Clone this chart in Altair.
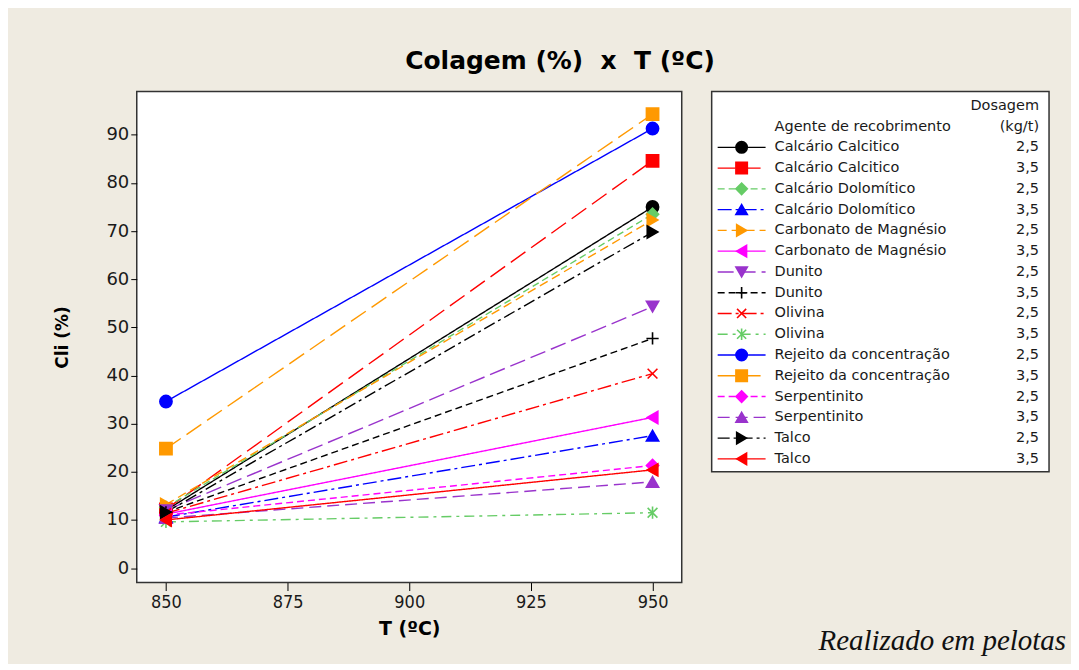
import altair as alt
import pandas as pd

# ---------------- data ----------------
agents = ["Calcário Calcitico", "Calcário Calcitico",
          "Calcário Dolomítico", "Calcário Dolomítico",
          "Carbonato de Magnésio", "Carbonato de Magnésio",
          "Dunito", "Dunito",
          "Olivina", "Olivina",
          "Rejeito da concentração", "Rejeito da concentração",
          "Serpentinito", "Serpentinito",
          "Talco", "Talco"]
doses = ["2,5", "3,5"] * 8
temps = [850, 950]
cli_850 = [12.0, 12.2, 12.6, 10.6, 13.2, 11.2, 12.0, 11.6,
           11.4, 9.6, 34.6, 24.8, 11.0, 10.4, 11.6, 10.0]
cli_950 = [75.0, 84.6, 73.5, 27.5, 72.3, 31.3, 54.3, 47.7,
           40.4, 11.5, 91.3, 94.3, 21.3, 17.9, 69.8, 20.4]
x_ticks = [850, 875, 900, 925, 950]
y_ticks = [0, 10, 20, 30, 40, 50, 60, 70, 80, 90]

# ---------------- styles ----------------
colors = ["#000000", "#FF0000", "#66CC66", "#0000FF",
          "#FF9900", "#FF00FF", "#9933CC", "#000000",
          "#FF0000", "#66CC66", "#0000FF", "#FF9900",
          "#FF00FF", "#9933CC", "#000000", "#FF0000"]
dashes = [[1, 0], [18, 7], [7, 4], [14, 4, 3, 4],
          [9, 5], [1, 0], [16, 6], [7, 4],
          [14, 4, 3, 4], [10, 5, 3, 5], [1, 0], [18, 7],
          [7, 4], [12, 6], [12, 4, 3, 4], [1, 0]]
PLUS = "M-1,0H1M0,-1V1"
XMARK = "M-0.8,-0.8L0.8,0.8M-0.8,0.8L0.8,-0.8"
STAR = "M-0.8,-0.8L0.8,0.8M-0.8,0.8L0.8,-0.8M0,-1V1"
shapes = ["circle", "square", "diamond", "triangle-up",
          "triangle-right", "triangle-left", "triangle-down", PLUS,
          XMARK, STAR, "circle", "square",
          "diamond", "triangle-up", "triangle-right", "triangle-left"]

series = [f"{a} ({d})" for a, d in zip(agents, doses)]

rows = []
for i, s in enumerate(series):
    for t, v in zip(temps, [cli_850[i], cli_950[i]]):
        rows.append({"series": s, "T": t, "Cli": v})
df = pd.DataFrame(rows)

leg_df = pd.DataFrame({"series": series, "agent": agents, "dose": doses,
                       "row": list(range(len(series)))})
hdr_left = pd.DataFrame({"text": ["Agente de recobrimento"], "row": [-1]})
hdr_right = pd.DataFrame({"text": ["Dosagem", "(kg/t)"], "row": [-2, -1]})

color_scale = alt.Scale(domain=series, range=colors)
dash_scale = alt.Scale(domain=series, range=dashes)
shape_scale = alt.Scale(domain=series, range=shapes)

TXT = "#1a1a1a"
BG = "#EFEBE1"
LEG_FS = 14.5

# ---------------- main plot ----------------
x = alt.X("T:Q",
          scale=alt.Scale(domain=[844, 956], nice=False, zero=False),
          axis=alt.Axis(values=x_ticks, title="T (ºC)", format="d",
                        grid=False, tickSize=8, tickColor="#000",
                        labelFont="DejaVu Sans Condensed", labelFontSize=18,
                        labelColor=TXT, labelPadding=3,
                        titleFont="DejaVu Sans", titleFontSize=19,
                        titleFontWeight="bold", titleColor="#000",
                        titlePadding=8, domain=False))
y = alt.Y("Cli:Q",
          scale=alt.Scale(domain=[-3, 99], nice=False, zero=False),
          axis=alt.Axis(values=y_ticks, title="Cli (%)", grid=False,
                        tickSize=6, tickColor="#000",
                        labelFont="DejaVu Sans", labelFontSize=18,
                        labelColor=TXT, labelPadding=2,
                        titleFont="DejaVu Sans", titleFontSize=17,
                        titleFontWeight="bold", titleColor="#000",
                        titlePadding=34, domain=False))

base = alt.Chart(df)
lines = base.mark_line(strokeWidth=1.4).encode(
    x=x, y=y,
    color=alt.Color("series:N", scale=color_scale, legend=None),
    strokeDash=alt.StrokeDash("series:N", scale=dash_scale, legend=None),
    detail="series:N",
)
points = base.mark_point(filled=True, size=150, strokeWidth=1.6, opacity=1).encode(
    x=x, y=y,
    shape=alt.Shape("series:N", scale=shape_scale, legend=None),
    fill=alt.Fill("series:N", scale=color_scale, legend=None),
    stroke=alt.Stroke("series:N", scale=color_scale, legend=None),
)
plot = alt.layer(lines, points).properties(width=546, height=492)

# ---------------- legend panel ----------------
ly = alt.Y("row:Q", scale=alt.Scale(domain=[-2.69, 15.62], reverse=True,
                                     nice=False, zero=False), axis=None)
lbase = alt.Chart(leg_df)
lrule = lbase.mark_rule(strokeWidth=1.4).encode(
    x=alt.value(6), x2=alt.value(54), y=ly,
    color=alt.Color("series:N", scale=color_scale, legend=None),
    strokeDash=alt.StrokeDash("series:N", scale=dash_scale, legend=None),
)
lpoint = lbase.mark_point(filled=True, size=130, strokeWidth=1.6, opacity=1).encode(
    x=alt.value(30), y=ly,
    shape=alt.Shape("series:N", scale=shape_scale, legend=None),
    fill=alt.Fill("series:N", scale=color_scale, legend=None),
    stroke=alt.Stroke("series:N", scale=color_scale, legend=None),
)
lname = lbase.mark_text(align="left", baseline="middle", font="DejaVu Sans",
                        fontSize=LEG_FS, color=TXT).encode(
    x=alt.value(63), y=ly, text="agent:N")
ldose = lbase.mark_text(align="right", baseline="middle", font="DejaVu Sans",
                        fontSize=LEG_FS, color=TXT).encode(
    x=alt.value(328), y=ly, text="dose:N")
hl = alt.Chart(hdr_left).mark_text(align="left", baseline="middle",
                                   font="DejaVu Sans", fontSize=LEG_FS,
                                   color=TXT).encode(
    x=alt.value(63), y=ly, text="text:N")
hr = alt.Chart(hdr_right).mark_text(align="right", baseline="middle",
                                    font="DejaVu Sans", fontSize=LEG_FS,
                                    color=TXT).encode(
    x=alt.value(328), y=ly, text="text:N")

legend = alt.layer(lrule, lpoint, lname, ldose, hl, hr).properties(
    width=338, height=381,
    title=alt.TitleParams("Realizado em pelotas", orient="bottom",
                          anchor="end", font="Liberation Serif",
                          fontStyle="italic", fontWeight="normal",
                          fontSize=29, color="#111", offset=156, dx=17),
)

NB = "\u00a0"
chart = alt.hconcat(plot, legend, spacing=28).properties(
    title=alt.TitleParams(f"Colagem{NB}(%){NB}{NB}x{NB}{NB}T{NB}(ºC)",
                          anchor="middle",
                          font="DejaVu Sans", fontWeight="bold",
                          fontSize=25, color="#000", offset=17),
    background=BG,
    padding={"left": 45, "top": 40, "right": 4, "bottom": 6},
).configure_view(
    stroke="#333333", strokeWidth=1.5, fill="white"
).configure_concat(spacing=28)

chart.save("out.html", embed_options={"renderer": "svg", "actions": False})
